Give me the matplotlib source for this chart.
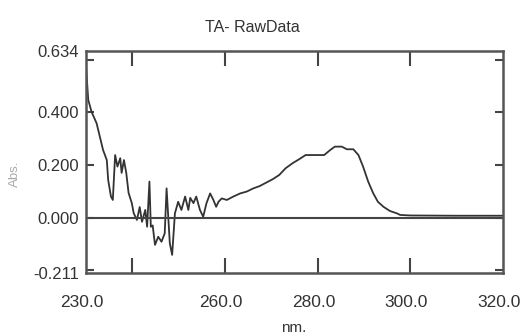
import matplotlib
matplotlib.use("Agg")
import matplotlib.pyplot as plt
from matplotlib.transforms import ScaledTranslation

# spectrum (nm, absorbance)
wavelength = [230.0, 230.5, 231.2, 232.3, 233.0, 233.7, 234.5, 234.8, 235.4, 235.8,
              236.3, 236.8, 237.4, 237.7, 238.2, 238.7, 239.2, 239.9, 240.3, 241.0,
              241.6, 242.1, 242.8, 243.2, 243.7, 244.0, 244.4, 244.9, 245.6, 246.3,
              247.0, 247.4, 248.1, 248.6, 249.2, 249.9, 250.6, 251.4, 252.1, 252.5,
              253.2, 253.8, 254.6, 255.3, 256.0, 256.8, 257.5, 258.1, 258.6, 259.3,
              260.4, 261.8, 263.3, 264.7, 266.1, 267.5, 268.9, 270.3, 271.7, 273.1,
              274.6, 276.0, 277.4, 278.9, 281.4, 282.7, 283.7, 285.2, 286.3, 287.7,
              288.8, 289.8, 290.9, 292.0, 293.0, 294.2, 295.6, 297.1, 297.8, 300.0,
              310.0, 320.0]
absorbance = [0.580, 0.448, 0.403, 0.359, 0.308, 0.257, 0.219, 0.143, 0.080, 0.067,
              0.238, 0.194, 0.226, 0.170, 0.219, 0.170, 0.094, 0.055, 0.017, -0.009,
              0.040, -0.016, 0.029, -0.035, 0.137, -0.035, -0.030, -0.104, -0.073, -0.092,
              -0.060, 0.111, -0.098, -0.142, 0.016, 0.060, 0.029, 0.080, 0.029, 0.075,
              0.055, 0.080, 0.029, 0.003, 0.054, 0.092, 0.067, 0.041, 0.060, 0.073,
              0.067, 0.080, 0.092, 0.099, 0.111, 0.120, 0.133, 0.146, 0.162, 0.188,
              0.207, 0.222, 0.238, 0.238, 0.238, 0.257, 0.270, 0.270, 0.260, 0.260,
              0.238, 0.194, 0.137, 0.092, 0.060, 0.041, 0.025, 0.016, 0.010, 0.008,
              0.007, 0.007]

x_tick_marks = [240, 260, 280, 300]
x_labels = [230, 260, 280, 300, 320]
y_tick_marks = [-0.2, 0.0, 0.2, 0.4, 0.6]
y_labels = [-0.211, 0.0, 0.2, 0.4, 0.634]

plt.rcParams['font.family'] = ['Liberation Sans', 'DejaVu Sans']

fig = plt.figure(figsize=(5.24, 3.36), dpi=100)
ax = fig.add_axes([0.164, 0.1875, 0.796, 0.6607])

ax.plot(wavelength, absorbance, color='#333333', lw=1.3)
ax.axhline(0, color='#444444', lw=1.5)

ax.set_xlim(230, 320)
ax.set_ylim(-0.211, 0.634)

# tick marks without labels, labels on minor ticks without marks
ax.xaxis.remove_overlapping_locs = False
ax.yaxis.remove_overlapping_locs = False
ax.set_xticks(x_tick_marks)
ax.set_xticklabels([])
ax.set_xticks(x_labels, minor=True)
ax.set_xticklabels([f"{v:.1f}" for v in x_labels], minor=True)
ax.set_yticks(y_tick_marks)
ax.set_yticklabels([])
ax.set_yticks(y_labels, minor=True)
ax.set_yticklabels([f"{v:.3f}" for v in y_labels], minor=True)

ax.tick_params(axis='x', which='major', direction='in', length=11, width=1.5,
               top=True, bottom=True, color='#444444')
ax.tick_params(axis='y', which='major', direction='in', length=6, width=1.5,
               left=True, right=True, color='#444444')
ax.tick_params(axis='x', which='minor', length=0, pad=16, labelsize=12.5, labelcolor='#333333')
ax.tick_params(axis='y', which='minor', length=0, pad=5, labelsize=12, labelcolor='#333333')

# x labels in the original sit a few pixels left of their ticks
shift = ScaledTranslation(-4 / 100, 0, fig.dpi_scale_trans)
for lab in ax.xaxis.get_minorticklabels():
    lab.set_transform(lab.get_transform() + shift)

for s in ax.spines.values():
    s.set_color('#555555')
    s.set_linewidth(1.8)

fig.text(0.481, 0.917, "TA- RawData", ha='center', va='center', fontsize=11.5, color='#333333')
fig.text(0.56, 0.003, "nm.", ha='center', va='bottom', fontsize=11, color='#333333')
fig.text(0.029, 0.483, "Abs.", ha='center', va='center', rotation=90, fontsize=9.5, color='#aaaaaa')

fig.savefig("out.png", dpi=100)
